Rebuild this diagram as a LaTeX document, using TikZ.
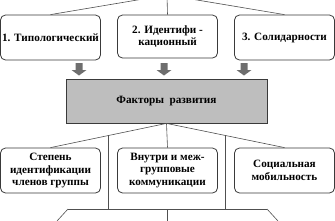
\documentclass[tikz,border=0pt]{standalone}
\usepackage{fontspec}
\setmainfont{Liberation Serif}
\usepackage{tikz}
\usetikzlibrary{positioning, calc}
\definecolor{edge}{HTML}{3A3A3A}
\definecolor{wire}{HTML}{505050}
\definecolor{factorbg}{HTML}{BEBEBE}
\definecolor{pushgray}{HTML}{6E6E6E}
\tikzset{
    stage/.style={rectangle, draw=edge, fill=white, line width=0.8pt, rounded corners=5pt, align=center, minimum width=100pt, minimum height=45pt, inner sep=1pt, font=\fontsize{11.2}{12.8}\selectfont\bfseries},
    factor/.style={rectangle, draw=edge, fill=factorbg, line width=0.8pt, minimum width=201pt, minimum height=44pt, font=\fontsize{11.2}{12.8}\selectfont\bfseries},
    link/.style={draw=wire, line width=0.6pt}
}

\begin{document}
\begin{tikzpicture}[x=1pt, y=-1pt]
    \useasboundingbox (0,0) rectangle (335,220);

    % typology row
    \node [stage] (typ) at (50.5,37.5) {1. Типологический};
    \node [stage, minimum height=43pt] (ident) at (167.5,36.5) {2. Идентифи -\\кационный};
    \node [stage] (solid) at (284.5,37.5) {3. Солидарности};
    \coordinate (apex) at (167,-5);
    \draw [link] (apex) -- (typ.north);
    \draw [link] (apex) -- (ident.north);
    \draw [link] (apex) -- (solid.north);

    \foreach \x in {79,164,244}
        \fill [pushgray] (\x-3.5,63) -- (\x+3.5,63) -- (\x+3.5,70) -- (\x+7.5,70)
            -- (\x,75.5) -- (\x-7.5,70) -- (\x-3.5,70) -- cycle;

    \node [factor] (dev) at (166.5,101) {Факторы~ развития};

    % factors row
    \node [stage] (degree) at (50.5,170.5) {Степень\\идентификации\\членов группы};
    \node [stage] (comm) at (167.5,170.5) {Внутри и меж-\\групповые\\коммуникации};
    \node [stage] (mob) at (284.5,170.5) {Социальная\\мобильность};
    \draw [link] (dev.south) -- (degree.north);
    \draw [link] (dev.south) -- (comm.north);
    \draw [link] (dev.south) -- (mob.north);

    \coordinate (hub) at (167,209);
    \coordinate (hubl) at (68,209);
    \coordinate (hubr) at (267,209);
    \coordinate (tapl) at ($(dev.south)!0.5!(degree.north)$);
    \coordinate (tapr) at ($(dev.south)!0.5!(mob.north)$);
    \draw [link] (tapl) -- (tapl |- hub);
    \draw [link] (tapr) -- (tapr |- hub);
    \draw [link] (hubl) -- (hubr);
    \draw [link] (hubl) -- ++(-11,12);
    \draw [link] (hubr) -- ++(11,12);
    \draw [link] (hub) -- ++(0,12);
\end{tikzpicture}
\end{document}
